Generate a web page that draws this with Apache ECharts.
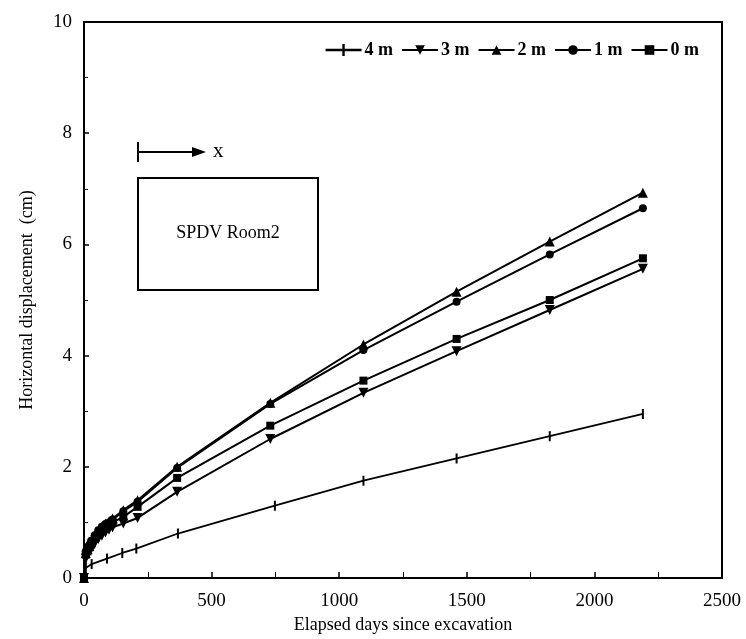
<!DOCTYPE html>
<html><head><meta charset="utf-8">
<script src="https://cdn.jsdelivr.net/npm/echarts@6/dist/echarts.min.js"></script>
<style>html,body{margin:0;padding:0;background:#fff}#c{width:746px;height:639px}</style>
</head><body><div id="c"></div>
<script>
const days = [0, 7, 14, 21, 28, 42, 56, 70, 84, 98, 112, 154, 210, 365, 730, 1095, 1460, 1825, 2190];
const m2 = [0, 0.45, 0.52, 0.58, 0.65, 0.75, 0.85, 0.92, 0.98, 1.02, 1.07, 1.22, 1.4, 2.0, 3.15, 4.2, 5.15, 6.05, 6.93];
const m1 = [0, 0.48, 0.55, 0.6, 0.67, 0.77, 0.86, 0.92, 0.97, 1.0, 1.05, 1.2, 1.37, 1.98, 3.13, 4.1, 4.97, 5.82, 6.65];
const m0 = [0, 0.42, 0.48, 0.55, 0.6, 0.7, 0.78, 0.85, 0.9, 0.95, 1.0, 1.1, 1.28, 1.8, 2.74, 3.55, 4.3, 5.0, 5.75];
const m3 = [0, 0.35, 0.42, 0.48, 0.53, 0.62, 0.7, 0.76, 0.82, 0.87, 0.91, 0.98, 1.08, 1.55, 2.5, 3.33, 4.08, 4.82, 5.56];
const days4 = [0, 7, 30, 90, 150, 205, 368, 748, 1095, 1460, 1825, 2190];
const m4 = [0, 0.18, 0.25, 0.35, 0.45, 0.53, 0.8, 1.3, 1.75, 2.15, 2.55, 2.95];
const seriesNames = ['4 m', '3 m', '2 m', '1 m', '0 m'];
const xTitle = 'Elapsed days since excavation';
const yTitle = 'Horizontal displacement  (cm)';
const insetLabel = 'SPDV Room2';

const pair = (xs, ys) => xs.map((x, i) => [x, ys[i]]);
const font = 'Liberation Serif';
const base = {type: 'line', lineStyle: {color: '#000', width: 2}, itemStyle: {color: '#000'}, showSymbol: true, animation: false};

const chart = echarts.init(document.getElementById('c'));
chart.setOption({
  backgroundColor: '#fff',
  textStyle: {fontFamily: font, color: '#000'},
  grid: {left: 84, right: 24, top: 22, bottom: 35, show: true, borderColor: '#000', borderWidth: 2},
  legend: {
    top: 36, right: 42, itemWidth: 36, itemHeight: 12, itemGap: 8,
    textStyle: {fontFamily: font, fontSize: 18, color: '#000', fontWeight: 'bold', padding: [0, 0, 0, -2]},
    data: [
      {name: seriesNames[0], icon: 'path://M0,4h14v-4h2v4h14v2h-14v4h-2v-4h-14z'},
      seriesNames[1], seriesNames[2], seriesNames[3], seriesNames[4]
    ]
  },
  xAxis: {
    type: 'value', min: 0, max: 2500, interval: 500,
    name: xTitle, nameLocation: 'middle', nameGap: 38,
    nameTextStyle: {fontFamily: font, fontSize: 18, color: '#000'},
    axisLine: {show: true, onZero: false, lineStyle: {color: '#000', width: 2}},
    axisTick: {show: true, inside: true, length: 6, lineStyle: {color: '#000', width: 1.5}},
    minorTick: {show: true, splitNumber: 2, length: 6, lineStyle: {color: '#000'}},
    axisLabel: {fontFamily: font, fontSize: 19, color: '#000', margin: 14, formatter: v => String(v)},
    splitLine: {show: false}
  },
  yAxis: {
    type: 'value', min: 0, max: 10, interval: 2,
    name: yTitle, nameLocation: 'middle', nameGap: 48,
    nameTextStyle: {fontFamily: font, fontSize: 18, color: '#000'},
    axisLine: {show: true, lineStyle: {color: '#000', width: 2}},
    axisTick: {show: true, inside: true, length: 5, lineStyle: {color: '#000', width: 1.5}},
    minorTick: {show: true, splitNumber: 2, length: 4, lineStyle: {color: '#000'}},
    axisLabel: {fontFamily: font, fontSize: 19, color: '#000', margin: 12},
    splitLine: {show: false}
  },
  graphic: [
    {type: 'line', shape: {x1: 138, y1: 152, x2: 198, y2: 152}, style: {stroke: '#000', lineWidth: 2}},
    {type: 'line', shape: {x1: 138, y1: 142, x2: 138, y2: 162}, style: {stroke: '#000', lineWidth: 2}},
    {type: 'polygon', shape: {points: [[192, 147], [206, 152], [192, 157]]}, style: {fill: '#000'}},
    {type: 'text', left: 213, top: 141, style: {text: 'x', font: '21px "Liberation Serif"', fill: '#000'}},
    {type: 'rect', shape: {x: 138, y: 178, width: 180, height: 112}, style: {fill: '#fff', stroke: '#000', lineWidth: 2}},
    {type: 'text', x: 228, y: 233, style: {text: insetLabel, font: '18px "Liberation Serif"', fill: '#000', align: 'center', verticalAlign: 'middle'}}
  ],
  series: [
    Object.assign({}, base, {name: seriesNames[0], data: pair(days4, m4), symbol: 'path://M0,0h2v10h-2z', symbolKeepAspect: true, symbolSize: 10, lineStyle: {color: '#000', width: 1.8}}),
    Object.assign({}, base, {name: seriesNames[1], data: pair(days, m3), symbol: 'triangle', symbolRotate: 180, symbolSize: 10}),
    Object.assign({}, base, {name: seriesNames[2], data: pair(days, m2), symbol: 'triangle', symbolSize: 10}),
    Object.assign({}, base, {name: seriesNames[3], data: pair(days, m1), symbol: 'circle', symbolSize: 8}),
    Object.assign({}, base, {name: seriesNames[4], data: pair(days, m0), symbol: 'rect', symbolSize: 8})
  ]
});
</script></body></html>
